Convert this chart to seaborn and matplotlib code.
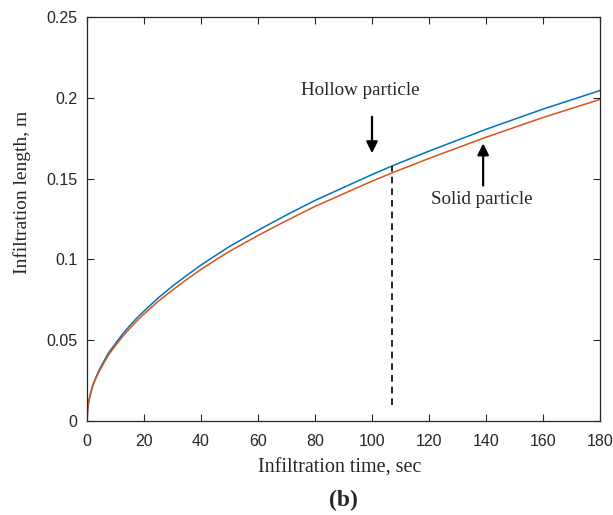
import matplotlib
matplotlib.use("Agg")
import matplotlib.pyplot as plt
import seaborn as sns
import pandas as pd

time_s = [0, 0.25, 0.5, 1, 1.5, 2, 3, 4, 5, 6, 7.5, 10, 12.5, 15, 17.5, 20, 25, 30, 35, 40, 45, 50, 60, 70, 80, 90, 100, 107, 120, 140, 160, 180]
hollow = [0, 0.0078, 0.011, 0.0155, 0.019, 0.022, 0.0265, 0.0305, 0.034, 0.0373, 0.042, 0.048, 0.0538, 0.059, 0.0637, 0.068, 0.0762, 0.0835, 0.0901, 0.0965, 0.1023, 0.108, 0.118, 0.1275, 0.1365, 0.1445, 0.1525, 0.1578, 0.167, 0.1805, 0.193, 0.2045]
solid = [0, 0.0075, 0.0107, 0.015, 0.0184, 0.0213, 0.026, 0.0297, 0.033, 0.0362, 0.0408, 0.0467, 0.0523, 0.0573, 0.0619, 0.0662, 0.0741, 0.081, 0.0876, 0.0938, 0.0995, 0.105, 0.1148, 0.124, 0.1328, 0.1406, 0.1484, 0.1535, 0.1625, 0.1756, 0.1878, 0.199]

x_ticks = [0, 20, 40, 60, 80, 100, 120, 140, 160, 180]
y_ticks = [0, 0.05, 0.1, 0.15, 0.2, 0.25]
y_tick_labels = ["0", "0.05", "0.1", "0.15", "0.2", "0.25"]

marker_time = 107
marker_low = 0.01
marker_high = 0.1578

df = pd.DataFrame({
    "t": time_s * 2,
    "L": hollow + solid,
    "series": ["Hollow particle"] * len(time_s) + ["Solid particle"] * len(time_s),
})

sns.set_theme(style="ticks")
plt.rcParams["font.family"] = ["Liberation Sans", "DejaVu Sans"]

fig = plt.figure(figsize=(6.13, 5.15), dpi=100)
ax = fig.add_axes([87 / 613, 1 - 421 / 515, (600 - 87) / 613, (421 - 17) / 515])

sns.lineplot(data=df, x="t", y="L", hue="series",
             palette={"Hollow particle": "#0072BD", "Solid particle": "#D95319"},
             linewidth=1.1, legend=False, ax=ax)
ax.set_xlabel("")
ax.set_ylabel("")

ax.plot([marker_time, marker_time], [marker_low, marker_high], color="black",
        linestyle=(0, (4, 3)), linewidth=1.2)

ax.set_xlim(0, 180)
ax.set_ylim(0, 0.25)
ax.set_xticks(x_ticks)
ax.set_yticks(y_ticks)
ax.set_yticklabels(y_tick_labels)
ax.tick_params(direction="in", length=5, width=0.8, top=True, right=True,
               labelsize=11.5, colors="#262626", pad=7)
ax.tick_params(axis="x", pad=9)
for s in ax.spines.values():
    s.set_color("#262626")
    s.set_linewidth(0.9)

serif = ["Liberation Serif", "DejaVu Serif"]
fig.text(340 / 613, 1 - 468 / 515, "Infiltration time, sec", family=serif, fontsize=14.5,
         ha="center", va="center")
fig.text(22 / 613, 1 - 192 / 515, "Infiltration length, m", family=serif, fontsize=14,
         ha="center", va="center", rotation=90)

ax.text(96, 0.2045, "Hollow particle", family=serif, fontsize=13.7, ha="center", va="center")
ax.annotate("", xy=(100, 0.164), xytext=(100, 0.19),
            arrowprops=dict(arrowstyle="-|>", color="black", lw=1.6, mutation_scale=17))
ax.text(138.5, 0.137, "Solid particle", family=serif, fontsize=13.7, ha="center", va="center")
ax.annotate("", xy=(139, 0.1735), xytext=(139, 0.144),
            arrowprops=dict(arrowstyle="-|>", color="black", lw=1.6, mutation_scale=17))

fig.text(343 / 613, 1 - 500 / 515, "(b)", family=serif, fontsize=17, fontweight="bold",
         ha="center", va="center")

fig.savefig("out.png", dpi=100)
